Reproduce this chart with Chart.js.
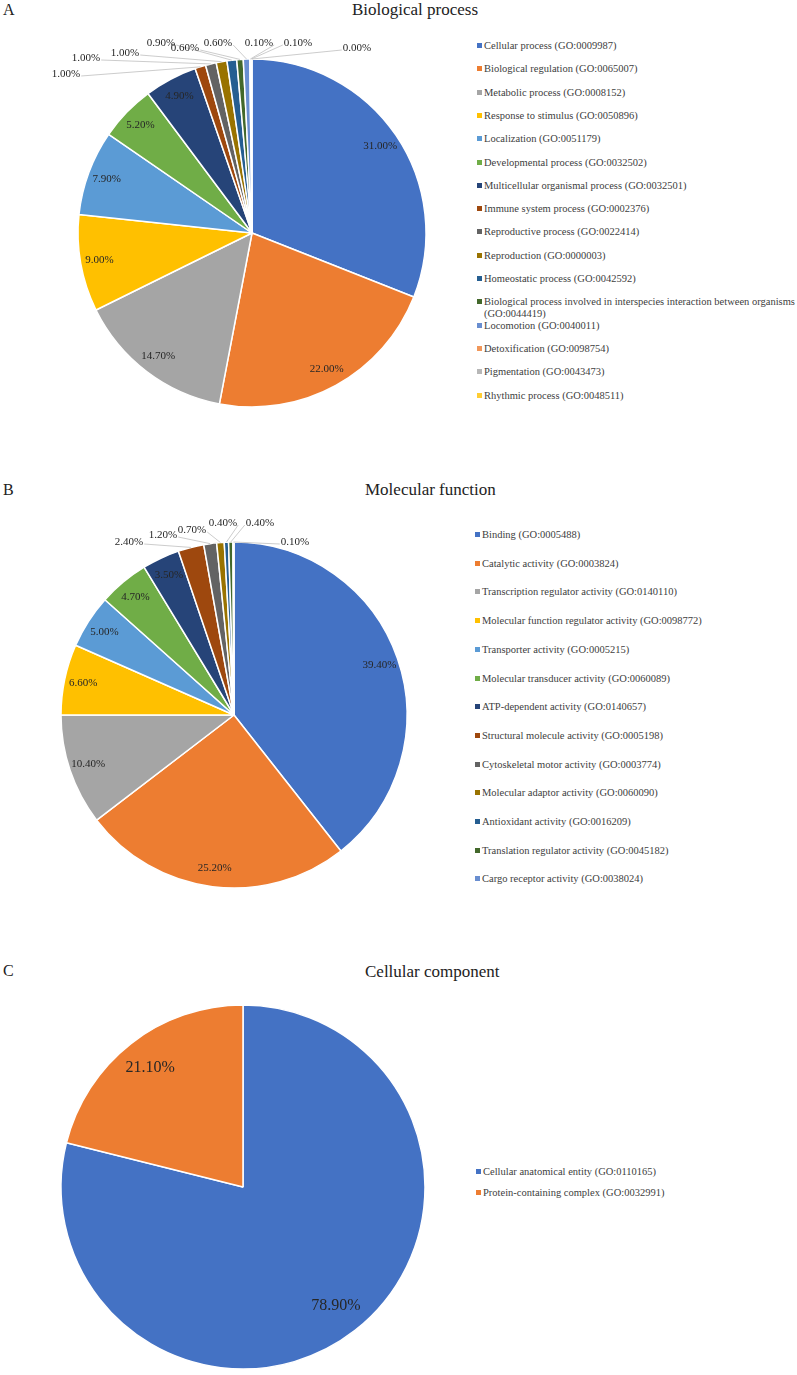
<!DOCTYPE html>
<html>
<head>
<meta charset="utf-8">
<script src="https://cdn.jsdelivr.net/npm/chart.js@4.4.1/dist/chart.umd.min.js"></script>
<style>
  body { margin: 0; background: #fff; font-family: "Liberation Serif", "Times New Roman", serif; }
  #page { position: relative; width: 797px; height: 1375px; overflow: hidden; }
  .letter { position: absolute; font-size: 16px; color: #222; }
  .title { position: absolute; font-size: 17px; color: #222; white-space: nowrap; }
  .box { position: absolute; }
  .legend { position: absolute; font-size: 10.5px; color: #404040; width: 318px; }
  .legend .item { position: absolute; left: 0; padding-left: 7px; line-height: 11.5px; }
  .legend .sw { position: absolute; left: 0; top: 3px; width: 5px; height: 5px; }
</style>
</head>
<body>
<div id="page">
  <div class="letter" style="left:3px;top:1px;">A</div>
  <div class="title" style="left:352px;top:0px;">Biological process</div>
  <div class="box" style="left:0;top:0;width:460px;height:440px;"><canvas id="chartA"></canvas></div>
  <div class="legend" id="legendA" style="left:477px;top:40px;"></div>

  <div class="letter" style="left:3px;top:481px;">B</div>
  <div class="title" style="left:365px;top:480px;">Molecular function</div>
  <div class="box" style="left:0;top:480px;width:460px;height:430px;"><canvas id="chartB"></canvas></div>
  <div class="legend" id="legendB" style="left:475px;top:529px;"></div>

  <div class="letter" style="left:3px;top:962px;">C</div>
  <div class="title" style="left:365px;top:962px;">Cellular component</div>
  <div class="box" style="left:0;top:960px;width:460px;height:415px;"><canvas id="chartC"></canvas></div>
  <div class="legend" id="legendC" style="left:476px;top:1166px;"></div>
</div>

<script>
// --- data ---
const bpLabels = [
  'Cellular process (GO:0009987)',
  'Biological regulation (GO:0065007)',
  'Metabolic process (GO:0008152)',
  'Response to stimulus (GO:0050896)',
  'Localization (GO:0051179)',
  'Developmental process (GO:0032502)',
  'Multicellular organismal process (GO:0032501)',
  'Immune system process (GO:0002376)',
  'Reproductive process (GO:0022414)',
  'Reproduction (GO:0000003)',
  'Homeostatic process (GO:0042592)',
  'Biological process involved in interspecies interaction between organisms (GO:0044419)',
  'Locomotion (GO:0040011)',
  'Detoxification (GO:0098754)',
  'Pigmentation (GO:0043473)',
  'Rhythmic process (GO:0048511)'
];
const bpValues = [31.0, 22.0, 14.7, 9.0, 7.9, 5.2, 4.9, 1.0, 1.0, 1.0, 0.9, 0.6, 0.6, 0.1, 0.1, 0.0];

const mfLabels = [
  'Binding (GO:0005488)',
  'Catalytic activity (GO:0003824)',
  'Transcription regulator activity (GO:0140110)',
  'Molecular function regulator activity (GO:0098772)',
  'Transporter activity (GO:0005215)',
  'Molecular transducer activity (GO:0060089)',
  'ATP-dependent activity (GO:0140657)',
  'Structural molecule activity (GO:0005198)',
  'Cytoskeletal motor activity (GO:0003774)',
  'Molecular adaptor activity (GO:0060090)',
  'Antioxidant activity (GO:0016209)',
  'Translation regulator activity (GO:0045182)',
  'Cargo receptor activity (GO:0038024)'
];
const mfValues = [39.4, 25.2, 10.4, 6.6, 5.0, 4.7, 3.5, 2.4, 1.2, 0.7, 0.4, 0.4, 0.1];

const ccLabels = [
  'Cellular anatomical entity (GO:0110165)',
  'Protein-containing complex (GO:0032991)'
];
const ccValues = [78.9, 21.1];

const officeColors = [
  '#4472C4', '#ED7D31', '#A5A5A5', '#FFC000', '#5B9BD5', '#70AD47',
  '#264478', '#9E480E', '#636363', '#997300', '#255E91', '#43682B',
  '#698ED0', '#F1975A', '#B7B7B7', '#FFCD33'
];

// where the small-slice labels sit, relative to the pie centre (null = inside)
const outsideA = [null, null, null, null, null, null, null,
  [-186, -159], [-166, -175], [-127, -180], [-91, -190], [-67, -185],
  [-34, -190], [7, -190], [46, -190], [105, -185]];
const outsideB = [null, null, null, null, null, null, null,
  [-105, -173], [-71, -180], [-42, -185], [-11, -192], [26, -192], [61, -173]];

// draws the percentage labels + leader lines
const pieLabels = {
  id: 'pieLabels',
  afterDatasetsDraw(chart, args, opts) {
    const ctx = chart.ctx;
    const meta = chart.getDatasetMeta(0);
    const values = chart.data.datasets[0].data;
    ctx.save();
    ctx.font = opts.font;
    ctx.textAlign = 'center';
    ctx.textBaseline = 'middle';
    ctx.strokeStyle = '#BFBFBF';
    ctx.lineWidth = 0.8;
    meta.data.forEach((arc, i) => {
      const p = arc.getProps(['x', 'y', 'startAngle', 'endAngle', 'outerRadius'], true);
      const mid = (p.startAngle + p.endAngle) / 2;
      const text = values[i].toFixed(2) + '%';
      const off = opts.outside ? opts.outside[i] : null;
      ctx.fillStyle = opts.color;
      if (!off) {
        const r = p.outerRadius * opts.inner;
        ctx.fillText(text, p.x + Math.cos(mid) * r, p.y + Math.sin(mid) * r);
      } else {
        const lx = p.x + off[0];
        const ly = p.y + off[1];
        ctx.fillText(text, lx, ly);
        const w = ctx.measureText(text).width;
        const ex = p.x + Math.cos(mid) * p.outerRadius;
        const ey = p.y + Math.sin(mid) * p.outerRadius;
        const sx = ex < lx - w / 2 ? lx - w / 2 - 1 : lx + w / 2 + 1;
        ctx.beginPath();
        ctx.moveTo(sx, ly + 2);
        ctx.lineTo(ex, ey);
        ctx.stroke();
      }
    });
    ctx.restore();
  }
};

function makePie(id, labels, values, radius, pad, labelOpts) {
  new Chart(document.getElementById(id), {
    type: 'pie',
    data: {
      labels: labels,
      datasets: [{
        data: values,
        backgroundColor: officeColors.slice(0, values.length),
        borderColor: '#ffffff',
        borderWidth: 1.5,
        hoverOffset: 0,
        radius: radius
      }]
    },
    options: {
      responsive: true,
      maintainAspectRatio: false,
      animation: false,
      events: [],
      layout: { padding: pad },
      plugins: {
        legend: { display: false },
        tooltip: { enabled: false },
        pieLabels: labelOpts
      }
    },
    plugins: [pieLabels]
  });
}

function makeLegend(id, labels, step) {
  const el = document.getElementById(id);
  labels.forEach((txt, i) => {
    const item = document.createElement('div');
    item.className = 'item';
    item.style.top = (i * step) + 'px';
    item.style.width = '312px';
    const sw = document.createElement('span');
    sw.className = 'sw';
    sw.style.background = officeColors[i];
    item.appendChild(sw);
    item.appendChild(document.createTextNode(txt));
    el.appendChild(item);
  });
}

makePie('chartA', bpLabels, bpValues, 174,
  { left: 78, right: 34, top: 59, bottom: 33 },
  { font: '11px "Liberation Serif"', color: '#262626', inner: 0.89, outside: outsideA });
makePie('chartB', mfLabels, mfValues, 173,
  { left: 60, right: 52, top: 61, bottom: 21 },
  { font: '11px "Liberation Serif"', color: '#262626', inner: 0.89, outside: outsideB });
makePie('chartC', ccLabels, ccValues, 182,
  { left: 58, right: 32, top: 42, bottom: 3 },
  { font: '16px "Liberation Serif"', color: '#262626', inner: 0.83, outside: null });

makeLegend('legendA', bpLabels, 23.3);
makeLegend('legendB', mfLabels, 28.7);
makeLegend('legendC', ccLabels, 21);
</script>
</body>
</html>
